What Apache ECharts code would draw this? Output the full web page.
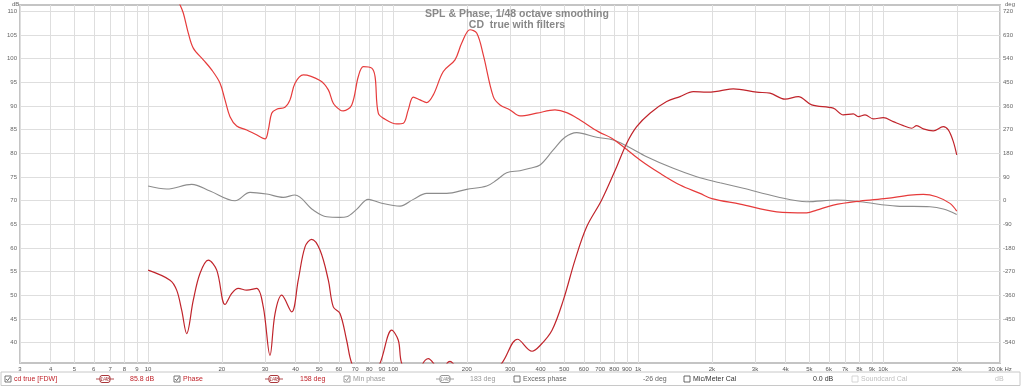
<!DOCTYPE html>
<html><head><meta charset="utf-8">
<script src="https://cdn.jsdelivr.net/npm/echarts@6/dist/echarts.min.js"></script>
<style>html,body{margin:0;padding:0;background:#fff}#c{width:1024px;height:387px}</style>
</head><body><div id="c"></div>
<script>
// ---- tick values ----
const xTicks = [3,4,5,6,7,8,9,10,20,30,40,50,60,70,80,90,100,200,300,400,500,600,700,800,900,1000,2000,3000,4000,5000,6000,7000,8000,9000,10000,20000,30000];
const dbTicks = [40,45,50,55,60,65,70,75,80,85,90,95,100,105,110];
const degTicks = [-540,-450,-360,-270,-180,-90,0,90,180,270,360,450,540,630,720];

// ---- SPL (cd true [FDW]) ----
const splFreq = [10,12.29,13.08,13.71,14.37,15.29,16.28,17.61,19.06,20.6,21.94,23.34,25.26,27.75,29.52,31.44,32.97,35.1,38.56,41.0,43.7,46.5,50.3,54.4,57.0,60.7,64.6,67.8,76.8,88.4,98.7,105,108.4,122.9,132.4,139.2,146.2,156.9,166,170.7,175.5,215.9,277.5,322,369,399,445.3,495.1,552.6,616.8,710.1,817.9,898.5,986.7,1118,1308,1483,1680,1906,2159,2446,3048,3453,3977,4506,5112,6260,6880,7557,7920,8437,9121,10021,11003,12089,13086,13713,14590,16029,17608,18456,19344,19975];
const splDb = [55.31,53.19,51.08,46.84,41.91,48.96,54.61,57.43,55.31,48.05,50.38,51.44,51.08,51.44,47.54,37.31,46.14,50.02,46.48,53.19,60.24,61.81,59.55,53.19,47.54,46.14,40.49,35.6,30,35.6,42.61,40.49,35.6,30,35.6,36.61,35.6,33,35.6,36.03,35.6,30,35.6,40.7,38.16,39.43,42.61,48.96,57.43,64.48,70.13,77.18,82.14,85.65,88.49,90.94,92.0,93.06,92.93,93.21,93.63,92.93,92.72,91.45,92.0,90.25,89.55,88.13,88.34,87.77,88.13,87.28,87.56,86.71,85.86,85.31,85.86,85.16,84.74,85.65,84.95,82.48,79.66];

// ---- Phase ----
const phaseFreq = [10,12,13.49,13.92,14.59,15.29,16.8,18.18,19.66,20.6,21.59,22.99,25.26,27.3,30,30.94,31.95,33.48,36.2,37.95,39.78,43.0,50.3,54.4,57.0,60.7,62.6,67.8,72.1,75.6,81.8,84.4,87.0,92.7,103.4,110.1,115.3,120.9,128.8,137.1,145.9,160.3,178.9,190.6,206,219.4,233.4,256.4,273.2,300,329.6,385.5,457.9,511.1,579.3,687.9,780.3,870.1,1018,1228,1483,1789,2000,2606,3680,4875,5357,6260,8049,10345,12877,14590,16545,18750,19975];
const phaseDeg = [960,840,745.5,713.9,637.7,580.5,535.9,497.8,447.1,383.5,319.8,284.4,269.2,253.9,234.9,269.2,332.8,348.0,355.7,383.5,447.1,478.8,457.0,421.6,370.9,345.4,341.6,364.4,472.3,510.4,504.3,472.3,332.8,309.9,292.0,294.7,345.4,393.8,383.5,373.2,402.5,491.3,535.9,599.6,650.3,637.7,555.0,396.1,364.4,345.4,322.5,332.8,345.4,335.1,307.3,262.7,237.5,205.5,154.8,104.1,59.5,27.9,8,-12.9,-42.2,-46.0,-35.7,-16.7,-1.4,8.9,21.4,24.1,15.0,-10.2,-39.5];

// ---- Min phase ----
const minFreq = [10,11.91,15.06,17.89,22.63,26.06,30.5,35.6,39.7,47.2,53.6,60.7,64.6,71.0,79.2,88.4,106.7,120.9,137.1,165.5,199.7,241,264.7,290.8,329.6,362.1,397.8,450.6,503,561.6,677.7,792,898.5,1084,1392,1734,2159,2688,3680,4875,6466,8049,11363,15536,17608,19975];
const minDeg = [55.7,44.3,62.2,36.7,-0.3,31.7,25.2,12.7,21.4,-35.7,-61.3,-63.6,-61.3,-33.1,5.0,-7.9,-20.5,5.0,27.9,27.9,43.2,55.7,78.6,106.4,114.1,123.2,135.8,192.9,241.3,258.9,241.3,231.0,208.2,167.4,123.2,91.2,68.3,47.0,15.0,-4.1,2.4,-4.1,-20.5,-23.1,-31.9,-52.1];

const zip = (a, b) => a.map((v, i) => [v, b[i]]);
const FONT = 'Liberation Sans, Arial, sans-serif';
const RED = '#c0242b', PRED = '#e63b3b', GREY = '#8c8c8c';

function xFmt(v) {
  v = Math.round(v);
  if (v === 30000) return '30.0k Hz';
  if (v >= 1000) return (v / 1000) + 'k';
  return String(v);
}

// ---- legend bar graphics ----
function checkbox(x, checked, color) {
  const els = [{ type: 'rect', shape: { x: x, y: 376, width: 6, height: 6 }, style: { fill: '#fff', stroke: color, lineWidth: 0.8 } }];
  if (checked) els.push({ type: 'polyline', shape: { points: [[x + 1.2, 379], [x + 2.6, 380.6], [x + 5, 377.2]] }, style: { stroke: color, lineWidth: 0.9, fill: null } });
  return els;
}
function smoothIcon(x, color) {
  return [
    { type: 'line', shape: { x1: x, y1: 379, x2: x + 18, y2: 379 }, style: { stroke: color, lineWidth: 0.8 } },
    { type: 'rect', shape: { x: x + 4, y: 375.5, width: 10, height: 7, r: 2 }, style: { fill: '#fff', stroke: color, lineWidth: 0.9 } },
    { type: 'text', x: x + 9, y: 379.2, style: { text: '1/48', fontSize: 5, fontStyle: 'italic', fill: color, align: 'center', verticalAlign: 'middle', fontFamily: FONT } }
  ];
}
function txt(x, s, color) {
  return { type: 'text', x: x, y: 379.3, style: { text: s, fontSize: 7, fill: color, verticalAlign: 'middle', fontFamily: FONT } };
}
const legendEls = [
  { type: 'rect', shape: { x: 1, y: 372, width: 1019, height: 13.5 }, style: { fill: '#fff', stroke: '#c8c8c8', lineWidth: 1 } },
  ...checkbox(5, true, '#555'), txt(14, 'cd true [FDW]', RED),
  ...smoothIcon(96, '#a02025'), txt(130, '85.8 dB', RED),
  ...checkbox(174, true, '#555'), txt(183, 'Phase', RED),
  ...smoothIcon(265, '#a02025'), txt(300, '158 deg', RED),
  ...checkbox(344, true, '#888'), txt(353, 'Min phase', '#999'),
  ...smoothIcon(436, '#888'), txt(470, '183 deg', '#999'),
  ...checkbox(514, false, '#555'), txt(523, 'Excess phase', '#666'),
  txt(643, '-26 deg', '#666'),
  ...checkbox(684, false, '#444'), txt(693, 'Mic/Meter Cal', '#333'),
  txt(813, '0.0 dB', '#333'),
  ...checkbox(852, false, '#ccc'), txt(861, 'Soundcard Cal', '#c0c0c0'),
  txt(995, 'dB', '#c0c0c0'),
  { type: 'text', x: 12, y: 1, style: { text: 'dB', fontSize: 6, fill: '#666', fontFamily: FONT } },
  { type: 'text', x: 1005, y: 1, style: { text: 'deg', fontSize: 6, fill: '#666', fontFamily: FONT } }
];

const chart = echarts.init(document.getElementById('c'), null, { renderer: 'canvas' });
chart.setOption({
  animation: false,
  backgroundColor: '#fff',
  title: {
    text: 'SPL & Phase, 1/48 octave smoothing\nCD  true with filters',
    left: 512, top: 4, textAlign: 'center',
    textStyle: { fontSize: 10.5, fontWeight: 'bold', color: '#888', lineHeight: 11, fontFamily: FONT }
  },
  grid: { left: 20, right: 24, top: 5, bottom: 24, show: true, borderColor: '#c4c4c4', borderWidth: 2, backgroundColor: 'transparent' },
  xAxis: {
    type: 'log', logBase: 10, min: 3, max: 30000,
    axisLine: { show: false },
    axisTick: { show: false, customValues: xTicks },
    axisLabel: { customValues: xTicks, formatter: xFmt, fontSize: 6, color: '#555', margin: 3, fontFamily: FONT, hideOverlap: false },
    splitLine: { show: true, lineStyle: { color: '#dedede', width: 1 } }
  },
  yAxis: [
    {
      type: 'value', min: 35.68, max: 111.36,
      axisLine: { show: false },
      axisTick: { show: false, customValues: dbTicks },
      axisLabel: { customValues: dbTicks, fontSize: 6, color: '#666', margin: 3, fontFamily: FONT },
      splitLine: { show: true, lineStyle: { color: '#dedede', width: 1 } }
    },
    {
      type: 'value', min: -617.5, max: 744.5, position: 'right',
      axisLine: { show: false },
      axisTick: { show: false, customValues: degTicks },
      axisLabel: { customValues: degTicks, fontSize: 6, color: '#666', margin: 3, fontFamily: FONT },
      splitLine: { show: false }
    }
  ],
  series: [
    { name: 'Min phase', type: 'line', yAxisIndex: 1, data: zip(minFreq, minDeg), showSymbol: false, smooth: 0.35, lineStyle: { color: GREY, width: 1.1 }, z: 2 },
    { name: 'Phase', type: 'line', yAxisIndex: 1, data: zip(phaseFreq, phaseDeg), showSymbol: false, smooth: 0.35, lineStyle: { color: PRED, width: 1.2 }, z: 3 },
    { name: 'cd true [FDW]', type: 'line', yAxisIndex: 0, data: zip(splFreq, splDb), showSymbol: false, smooth: 0.35, lineStyle: { color: RED, width: 1.2 }, z: 4 }
  ],
  graphic: { elements: legendEls }
});
</script></body></html>
